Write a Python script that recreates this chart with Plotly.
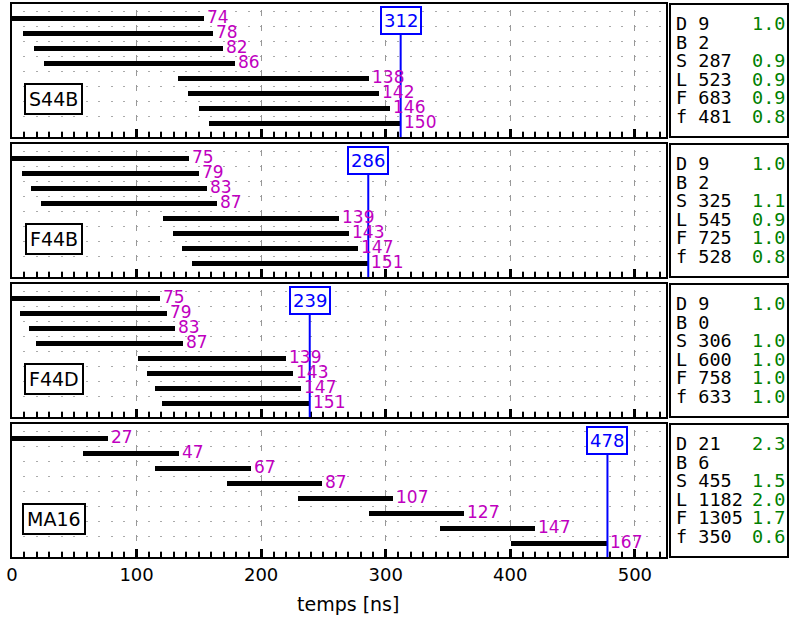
import plotly.graph_objects as go

# ---------------- data ----------------
panel_names = ["S44B", "F44B", "F44D", "MA16"]

s44b_start = [0, 8.6, 17.6, 25.4, 133.3, 141.3, 150.0, 158.1]
s44b_end = [153.8, 161.6, 169.6, 179.0, 286.9, 294.9, 303.7, 312.0]
s44b_labels = [74, 78, 82, 86, 138, 142, 146, 150]
s44b_total = 312

f44b_start = [0, 8.3, 15.3, 23.3, 121.2, 129.2, 136.2, 144.2]
f44b_end = [141.8, 149.9, 156.8, 164.9, 262.8, 270.8, 278.0, 286.0]
f44b_labels = [75, 79, 83, 87, 139, 143, 147, 151]
f44b_total = 286

f44d_start = [0, 6.4, 13.4, 19.3, 101.2, 108.4, 114.5, 120.4]
f44d_end = [118.8, 124.7, 131.2, 137.6, 219.7, 225.9, 232.0, 239.0]
f44d_labels = [75, 79, 83, 87, 139, 143, 147, 151]
f44d_total = 239

ma16_start = [0, 57.3, 114.5, 172.3, 229.3, 286.3, 343.3, 400.3]
ma16_end = [77.1, 133.8, 191.6, 248.8, 305.8, 362.8, 420.1, 478.0]
ma16_labels = [27, 47, 67, 87, 107, 127, 147, 167]
ma16_total = 478

stat_keys = ["D", "B", "S", "L", "F", "f"]
s44b_stats = [9, 2, 287, 523, 683, 481]
s44b_ratios = ["1.0", "", "0.9", "0.9", "0.9", "0.8"]
f44b_stats = [9, 2, 325, 545, 725, 528]
f44b_ratios = ["1.0", "", "1.1", "0.9", "1.0", "0.8"]
f44d_stats = [9, 0, 306, 600, 758, 633]
f44d_ratios = ["1.0", "", "1.0", "1.0", "1.0", "1.0"]
ma16_stats = [21, 6, 455, 1182, 1305, 350]
ma16_ratios = ["2.3", "", "1.5", "2.0", "1.7", "0.6"]

x_ticks = [0, 100, 200, 300, 400, 500]

panels = [
    (panel_names[0], s44b_start, s44b_end, s44b_labels, s44b_total, s44b_stats, s44b_ratios),
    (panel_names[1], f44b_start, f44b_end, f44b_labels, f44b_total, f44b_stats, f44b_ratios),
    (panel_names[2], f44d_start, f44d_end, f44d_labels, f44d_total, f44d_stats, f44d_ratios),
    (panel_names[3], ma16_start, ma16_end, ma16_labels, ma16_total, ma16_stats, ma16_ratios),
]

# ---------------- layout geometry ----------------
W, H = 789, 619
ML, MR, MT, MB = 12, 123, 4, 62
PW = W - ML - MR
PH = H - MT - MB
PANEL_H = 133
PANEL_STEP = 140

MAGENTA = "#c000c0"
BLUE = "#0000ff"
GREEN = "#008000"
FONT = "DejaVu Sans"
MONO = "DejaVu Sans Mono"


def py(px):
    return (H - MB - px) / PH


def pxx(px):
    return (px - ML) / PW


fig = go.Figure()
annotations = []
shapes = []

for k, (name, st, en, labs, total, stats, ratios) in enumerate(panels):
    top = MT + PANEL_STEP * k
    bot = top + PANEL_H
    sfx = "" if k == 0 else str(k + 1)
    xa = "x" + sfx
    ya = "y" + sfx
    rows = list(range(len(st)))

    fig.add_trace(go.Bar(
        x=[e - s for s, e in zip(st, en)], base=st, y=rows, orientation="h",
        width=0.34, marker=dict(color="black", line=dict(width=0)),
        xaxis=xa, yaxis=ya, showlegend=False, hoverinfo="skip",
    ))

    for r, e, lab in zip(rows, en, labs):
        annotations.append(dict(
            x=e, y=r, xref=xa, yref=ya, text=str(lab), showarrow=False,
            xanchor="left", yanchor="middle", xshift=1, yshift=2,
            font=dict(family=FONT, size=17, color=MAGENTA),
        ))

    # panel label box
    annotations.append(dict(
        x=33.6, y=5.33, xref=xa, yref=ya, text=name, showarrow=False,
        xanchor="center", yanchor="middle",
        font=dict(family=FONT, size=19, color="black"),
        bordercolor="black", borderwidth=2, borderpad=3, bgcolor="white",
    ))

    # total marker
    shapes.append(dict(
        type="line", xref=xa, yref=ya + " domain", x0=total, x1=total,
        y0=0, y1=0.78, line=dict(color=BLUE, width=2), layer="above",
    ))
    annotations.append(dict(
        x=total, y=0.13, xref=xa, yref=ya, text=str(total), showarrow=False,
        xanchor="center", yanchor="middle",
        font=dict(family=FONT, size=18, color=BLUE),
        bordercolor=BLUE, borderwidth=2, borderpad=2, bgcolor="white",
    ))

    # right stats box
    shapes.append(dict(
        type="rect", xref="paper", yref="paper",
        x0=pxx(670), x1=pxx(788), y0=py(bot), y1=py(top),
        line=dict(color="black", width=2), fillcolor="rgba(0,0,0,0)",
    ))
    for j, (key, val, rat) in enumerate(zip(stat_keys, stats, ratios)):
        yc = py(top + 19.5 + 18.6 * j)
        annotations.append(dict(
            x=pxx(674), y=yc, xref="paper", yref="paper",
            text=f"{key} {val}", showarrow=False, xanchor="left", yanchor="middle",
            font=dict(family=MONO, size=18.5, color="black"),
        ))
        if rat:
            annotations.append(dict(
                x=pxx(787), y=yc, xref="paper", yref="paper",
                text=rat, showarrow=False, xanchor="right", yanchor="middle",
                font=dict(family=MONO, size=18.5, color=GREEN),
            ))

    xaxis = dict(
        domain=[0, 1], range=[0, 525], anchor=ya,
        tickmode="array", tickvals=x_ticks, ticktext=[str(t) for t in x_ticks],
        showticklabels=(k == 3), ticks="inside", ticklen=8, tickwidth=3, tickcolor="black",
        showline=True, linecolor="black", linewidth=2, mirror=True,
        showgrid=True, gridcolor="#999999", gridwidth=1, griddash="0px,6px,6px,3px",
        minor=dict(dtick=10, tick0=0, ticks="inside", ticklen=5, tickwidth=2, tickcolor="black",
                   showgrid=True, gridcolor="#aaaaaa", gridwidth=1.5, griddash="0px,6.5px,1.5px,7px"),
        zeroline=False, automargin=False, fixedrange=True,
        tickfont=dict(family=FONT, size=18, color="black"),
    )
    if k != 3:
        xaxis["matches"] = "x4"
    yaxis = dict(
        domain=[py(bot), py(top)], range=[7.89, -0.98], anchor=xa,
        showticklabels=False, ticks="", showgrid=False, zeroline=False,
        showline=True, linecolor="black", linewidth=2, mirror=True,
        automargin=False, fixedrange=True,
    )
    fig.update_layout(**{"xaxis" + sfx: xaxis, "yaxis" + sfx: yaxis})

annotations.append(dict(
    x=pxx(348), y=py(604), xref="paper", yref="paper", text="temps [ns]",
    showarrow=False, xanchor="center", yanchor="middle",
    font=dict(family=FONT, size=19, color="black"),
))

fig.update_layout(
    template="none",
    width=W, height=H,
    margin=dict(l=ML, r=MR, t=MT, b=MB, pad=0),
    paper_bgcolor="white", plot_bgcolor="white",
    font=dict(family=FONT, size=18, color="black"),
    annotations=annotations, shapes=shapes,
    bargap=0, showlegend=False,
)

fig.write_html(
    "out.html",
    config={"displayModeBar": False},
    post_script="document.body.style.margin='0px';document.body.style.overflow='hidden';",
)
